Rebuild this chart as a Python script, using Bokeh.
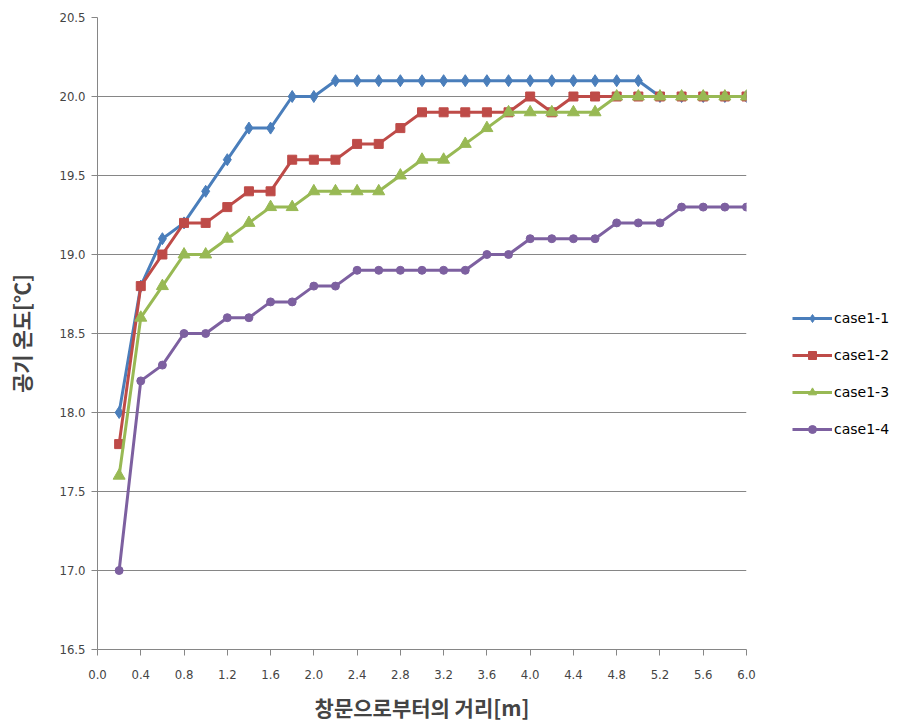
from bokeh.plotting import figure
from bokeh.models import FixedTicker, PrintfTickFormatter, Legend, Range1d
from bokeh.embed import file_html
from bokeh.resources import INLINE

# distance from the window [m]
distance = [0.2, 0.4, 0.6, 0.8, 1.0, 1.2, 1.4, 1.6, 1.8, 2.0,
            2.2, 2.4, 2.6, 2.8, 3.0, 3.2, 3.4, 3.6, 3.8, 4.0,
            4.2, 4.4, 4.6, 4.8, 5.0, 5.2, 5.4, 5.6, 5.8, 6.0]

# air temperature [°C] for each case
case1_1 = [18.0, 18.8, 19.1, 19.2, 19.4, 19.6, 19.8, 19.8, 20.0, 20.0,
           20.1, 20.1, 20.1, 20.1, 20.1, 20.1, 20.1, 20.1, 20.1, 20.1,
           20.1, 20.1, 20.1, 20.1, 20.1, 20.0, 20.0, 20.0, 20.0, 20.0]
case1_2 = [17.8, 18.8, 19.0, 19.2, 19.2, 19.3, 19.4, 19.4, 19.6, 19.6,
           19.6, 19.7, 19.7, 19.8, 19.9, 19.9, 19.9, 19.9, 19.9, 20.0,
           19.9, 20.0, 20.0, 20.0, 20.0, 20.0, 20.0, 20.0, 20.0, 20.0]
case1_3 = [17.6, 18.6, 18.8, 19.0, 19.0, 19.1, 19.2, 19.3, 19.3, 19.4,
           19.4, 19.4, 19.4, 19.5, 19.6, 19.6, 19.7, 19.8, 19.9, 19.9,
           19.9, 19.9, 19.9, 20.0, 20.0, 20.0, 20.0, 20.0, 20.0, 20.0]
case1_4 = [17.0, 18.2, 18.3, 18.5, 18.5, 18.6, 18.6, 18.7, 18.7, 18.8,
           18.8, 18.9, 18.9, 18.9, 18.9, 18.9, 18.9, 19.0, 19.0, 19.1,
           19.1, 19.1, 19.1, 19.2, 19.2, 19.2, 19.3, 19.3, 19.3, 19.3]

series_names = ["case1-1", "case1-2", "case1-3", "case1-4"]
x_ticks = [0.0, 0.4, 0.8, 1.2, 1.6, 2.0, 2.4, 2.8, 3.2, 3.6, 4.0, 4.4, 4.8, 5.2, 5.6, 6.0]
y_ticks = [16.5, 17.0, 17.5, 18.0, 18.5, 19.0, 19.5, 20.0, 20.5]

colors = ["#4A7EBB", "#BE4B48", "#98B954", "#7D60A0"]
markers = ["diamond", "square", "triangle", "circle"]
marker_sizes = [12, 9, 12, 8]

p = figure(frame_width=649, frame_height=632, output_backend="svg", toolbar_location=None,
           x_range=Range1d(0, 6.0), y_range=Range1d(16.5, 20.5),
           min_border_left=97, min_border_right=154,
           min_border_top=17, min_border_bottom=76)
p.outline_line_color = None
p.background_fill_color = "white"
p.border_fill_color = "white"

renderers = []
for name, ys, c, m, s in zip(series_names, [case1_1, case1_2, case1_3, case1_4],
                             colors, markers, marker_sizes):
    ln = p.line(distance, ys, line_color=c, line_width=3)
    sc = p.scatter(distance, ys, marker=m, size=s, fill_color=c, line_color=c)
    renderers.append((name, [ln, sc]))

legend = Legend(items=renderers, location=(46, 210),
                border_line_color=None, background_fill_alpha=0,
                label_text_font="DejaVu Sans", label_text_font_size="14px",
                label_text_color="#000000", spacing=17, padding=0, margin=0,
                glyph_width=40, glyph_height=20, label_height=20, label_standoff=2)
p.add_layout(legend, "right")

# x axis
p.xaxis.ticker = FixedTicker(ticks=x_ticks)
p.xaxis.formatter = PrintfTickFormatter(format="%.1f")
p.xaxis.axis_label = "창문으로부터의 거리[m]"
p.xaxis.axis_label_text_font = "Noto Sans CJK KR"
p.xaxis.axis_label_text_font_style = "bold"
p.xaxis.axis_label_text_font_size = "21px"
p.xaxis.axis_label_standoff = 10
p.xaxis.major_label_text_font = "Liberation Sans Narrow, DejaVu Sans Condensed"
p.xaxis.major_label_text_font_size = "13px"
p.xaxis.major_label_standoff = 14
p.xaxis.axis_line_color = "#868686"
p.xaxis.major_tick_line_color = "#868686"
p.xaxis.major_tick_out = 6
p.xaxis.major_tick_in = 0
p.xaxis.minor_tick_line_color = None

# y axis
p.yaxis.ticker = FixedTicker(ticks=y_ticks)
p.yaxis.formatter = PrintfTickFormatter(format="%.1f")
p.yaxis.axis_label = "공기 온도[℃]"
p.yaxis.axis_label_text_font = "Noto Sans CJK KR"
p.yaxis.axis_label_text_font_style = "bold"
p.yaxis.axis_label_text_font_size = "21px"
p.yaxis.axis_label_standoff = 20
p.yaxis.major_label_text_font = "Liberation Sans Narrow, DejaVu Sans Condensed"
p.yaxis.major_label_text_font_size = "13px"
p.yaxis.major_label_standoff = 6
p.yaxis.axis_line_color = "#868686"
p.yaxis.major_tick_line_color = "#868686"
p.yaxis.major_tick_out = 6
p.yaxis.major_tick_in = 0
p.yaxis.minor_tick_line_color = None

p.xgrid.grid_line_color = None
p.ygrid.ticker = FixedTicker(ticks=y_ticks)
p.ygrid.grid_line_color = "#868686"
p.ygrid.grid_line_width = 1

open("out.html", "w").write(file_html(p, INLINE))
